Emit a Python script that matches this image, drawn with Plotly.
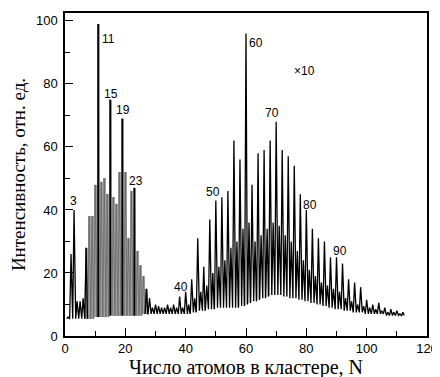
import plotly.graph_objects as go

# -------------------------------------------------
# Data: cluster size N, peak intensity and the level between peaks
# -------------------------------------------------
cluster_n = list(range(1, 113))

peak = [
    6, 26, 40, 11, 11, 12, 28, 38, 38, 48,            # 1-10
    99, 49, 50, 45, 75, 44, 42, 52, 69, 52,           # 11-20
    31, 46, 47, 27, 22.5, 19, 15, 12, 9, 10,          # 21-30
    9.5, 9, 9, 10, 9, 10, 9, 12.5, 9, 14,             # 31-40
    10, 18, 12, 31, 14, 22, 16, 37, 20, 43,           # 41-50
    22, 44, 24, 46, 28, 62, 30, 56, 34, 96,           # 51-60
    36, 48, 30, 58, 32, 59, 34, 62, 36, 68,           # 61-70
    35, 59, 32, 57, 30, 54, 27, 45, 24, 40,           # 71-80
    21, 34, 19, 31, 17, 30, 16, 25, 15, 25,           # 81-90
    14, 23, 12, 18, 11, 17, 10, 15.5, 9.5, 11.5,      # 91-100
    9, 10, 8.5, 10.5, 8, 9, 7.5, 8.5, 7.5, 8,         # 101-110
    7, 7.5,                                           # 111-112
]

background = [
    5.5, 5.5, 5.5, 5.5, 5.5, 5.5, 5.5, 5.5, 5.5, 6,
    6, 6, 6, 6, 6.5, 6.5, 6.5, 6.5, 6.5, 6.5,
    6.5, 6.5, 6.5, 6.5, 6.5, 7, 7, 7, 7, 7,
    7, 7, 7, 7, 7, 7, 7, 7, 7, 7,
    7, 7.5, 7.5, 8, 8, 8, 8.5, 8.5, 8.5, 9,
    9, 9, 9, 9, 9, 9, 9, 9.5, 9.5, 10,
    10.5, 11, 11, 11.5, 12, 12, 12.5, 13, 13, 13,
    13, 13, 12.5, 12.5, 12, 12, 12, 11.5, 11.5, 11,
    11, 10.5, 10.5, 10, 10, 9.5, 9.5, 9, 9, 8.5,
    8.5, 8.5, 8, 8, 8, 7.5, 7.5, 7.5, 7.5, 7,
    7, 7, 7, 7, 7, 7, 6.5, 6.5, 6.5, 6.5,
    6.5, 6.5,
]

# small clusters drawn as grey bars, magic sizes drawn as black spikes on top
small_first, small_last = 7, 27
magic_n = [11, 15, 19, 23]

peak_labels = ["3", "11", "15", "19", "23", "40", "50", "60", "70", "80", "90", "\u00d710"]
label_x = [2.8, 14.3, 15.1, 19.2, 23.5, 38.3, 49.1, 63.3, 68.6, 81.2, 91.3, 79.5]
label_y = [42.9, 94.3, 76.8, 71.7, 49.2, 15.7, 45.7, 93.0, 70.8, 41.6, 27.1, 84.1]

# -------------------------------------------------
# Spectrum traces: each peak drawn as a narrow spike
# -------------------------------------------------
HALF = 0.45


def spikes(ns):
    xs, ys = [], []
    for n in ns:
        p, b = peak[n - 1], background[n - 1]
        xs += [n - HALF, n, n + HALF]
        ys += [b, p, b]
    return xs, ys


left_n = [n for n in cluster_n if n < small_first]
grey_n = [n for n in cluster_n if small_first <= n <= small_last]
right_n = [n for n in cluster_n if n > small_last]

fig = go.Figure()
fig.add_trace(go.Bar(
    x=grey_n,
    y=[peak[n - 1] - background[n - 1] for n in grey_n],
    base=[background[n - 1] for n in grey_n],
    width=1.0,
    marker=dict(color="#a0a0a0", line=dict(width=0)),
    showlegend=False,
))

gx, gy = spikes(grey_n)
fig.add_trace(go.Scatter(x=gx, y=gy, mode="lines",
                         line=dict(color="#606060", width=0.7), showlegend=False))

lx, ly = spikes(left_n + [small_first])
rx, ry = spikes([small_last] + right_n)
for xs, ys in ((lx, ly), (rx, ry)):
    fig.add_trace(go.Scatter(x=xs, y=ys, mode="lines",
                             line=dict(color="black", width=1.3), showlegend=False))

mx, my = [], []
for n in magic_n:
    mx += [n, n, None]
    my += [background[n - 1], peak[n - 1], None]
fig.add_trace(go.Scatter(x=mx, y=my, mode="lines",
                         line=dict(color="black", width=1.6), showlegend=False))

for t, x, y in zip(peak_labels, label_x, label_y):
    fig.add_annotation(
        x=x, y=y, text=t, showarrow=False,
        font=dict(family="Liberation Sans, Arial", size=12, color="black"),
    )

SERIF = "Liberation Serif, Times New Roman, serif"
axis_common = dict(
    showline=True, linecolor="black", linewidth=1.5, mirror=True,
    ticks="inside", ticklen=8, tickwidth=1.2, tickcolor="black",
    minor=dict(ticks="inside", ticklen=5, tickwidth=1, tickcolor="black", dtick=10),
    showgrid=False, zeroline=False, automargin=False,
    tickfont=dict(family="Liberation Sans, Arial", size=13, color="black"),
)

fig.update_xaxes(
    range=[0, 120], dtick=20, tick0=0, ticklabelstandoff=0,
    title=dict(text="Число атомов в кластере, N",
               font=dict(family=SERIF, size=20, color="black"), standoff=2),
    **axis_common,
)
fig.update_yaxes(
    range=[0, 102.5], dtick=20, tick0=0, ticklabelstandoff=3,
    title=dict(text="Интенсивность, отн. ед.",
               font=dict(family=SERIF, size=19, color="black"), standoff=5),
    **axis_common,
)

# the page adds an 8px body margin, so the plot box is shifted up/left by 8px
fig.update_layout(
    width=440, height=377,
    margin=dict(l=57, r=21, t=5, b=49),
    paper_bgcolor="white", plot_bgcolor="white",
    bargap=0,
)

fig.write_html("out.html")
